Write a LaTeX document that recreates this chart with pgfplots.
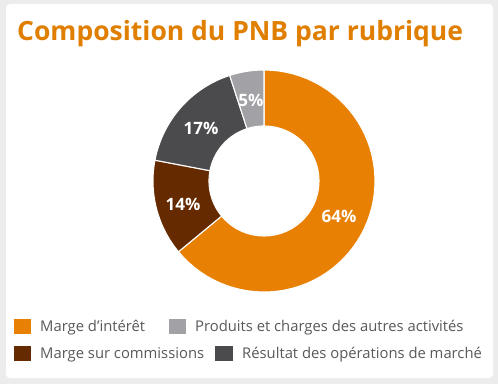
\documentclass[border=0pt]{standalone}
\usepackage{pgfplots}
\pgfplotsset{compat=1.18}
\usepackage{fontspec}
\setmainfont{Open Sans}
\definecolor{cOrange}{HTML}{E88004}
\definecolor{cBrown}{HTML}{652A00}
\definecolor{cDark}{HTML}{4B4B4D}
\definecolor{cLight}{HTML}{A2A2A6}
\definecolor{cTitle}{HTML}{E07E00}
\definecolor{cText}{HTML}{595959}
\definecolor{cBg}{HTML}{ECECEC}
% slice: start percent, end percent, colour
\newcommand{\slice}[3]{%
\addplot[fill=#3, draw=white, line width=1.1pt, domain=0:2, samples=121, variable=\t]
 ({264 + (\t<1.005 ? 111 : 55)*cos(90-3.6*(\t<1.005 ? #1+(#2-#1)*\t : #2-(#2-#1)*(\t-1.0167)/0.9833))},
  {181 - (\t<1.005 ? 111 : 55)*sin(90-3.6*(\t<1.005 ? #1+(#2-#1)*\t : #2-(#2-#1)*(\t-1.0167)/0.9833))}) -- cycle;}
\begin{document}
\begin{tikzpicture}
\begin{axis}[width=498bp, height=384bp, scale only axis, xmin=0, xmax=498, ymin=0, ymax=384,
  y dir=reverse, axis lines=none, ticks=none, clip=false]
\fill[cBg] (axis cs:0,0) rectangle (axis cs:498,384);
\fill[white, rounded corners=4bp] (axis cs:6,4) rectangle (axis cs:493,378);
% data: Marge d'intérêt 64, Marge sur commissions 14, Résultat des opérations de marché 17, Produits et charges 5
\slice{0}{64}{cOrange}
\slice{64}{78}{cBrown}
\slice{78}{95}{cDark}
\slice{95}{100}{cLight}
\node[anchor=base west, text=cTitle, font=\bfseries\fontsize{26.5bp}{30bp}\selectfont, inner sep=0pt] at (axis cs:17,40) {Composition du PNB par rubrique};
\begin{scope}[every node/.style={text=white, font=\bfseries\fontsize{17bp}{20bp}\selectfont}]
\node at (axis cs:339,216) {64\%};
\node at (axis cs:183,204) {14\%};
\node at (axis cs:201,128) {17\%};
\node at (axis cs:251,100) {5\%};
\end{scope}
\begin{scope}[every node/.style={anchor=base west, text=cText, font=\fontsize{14.8bp}{17bp}\selectfont, inner sep=0pt}]
\fill[cOrange] (axis cs:14,319) rectangle (axis cs:31,334);
\node at (axis cs:40,331) {Marge d’intérêt};
\fill[cLight] (axis cs:169,319) rectangle (axis cs:186,334);
\node at (axis cs:195,331) {Produits et charges des autres activités};
\fill[cBrown] (axis cs:14,346) rectangle (axis cs:31,361);
\node at (axis cs:40,358) {Marge sur commissions};
\fill[cDark] (axis cs:215,346) rectangle (axis cs:233,361);
\node at (axis cs:242,358) {Résultat des opérations de marché};
\end{scope}
\end{axis}
\end{tikzpicture}
\end{document}
